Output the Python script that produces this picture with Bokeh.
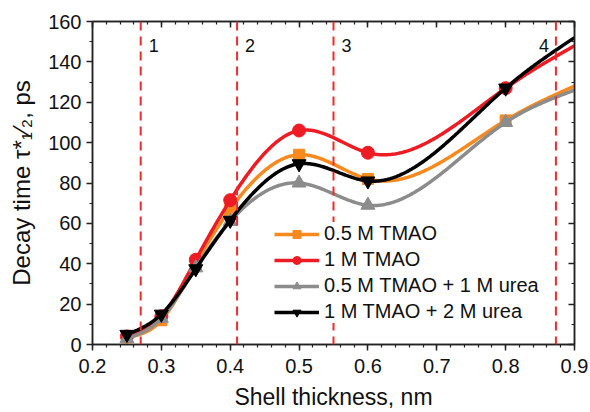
import numpy as np
from bokeh.plotting import figure
from bokeh.models import (Span, Label, Legend, LegendItem, LinearAxis,
                          FixedTicker, NumeralTickFormatter, Range1d)
from bokeh.embed import file_html
from bokeh.resources import INLINE

# ---- data ----
shell = [0.25, 0.30, 0.35, 0.40, 0.50, 0.60, 0.80, 0.90]
tmao_05 = [3.5, 12, 40, 67, 94, 82, 111, 128]
tmao_1 = [4, 14, 42, 71.5, 106, 95, 127, 148]
tmao_05_urea_1 = [3, 13, 38, 61, 80, 69, 110, 126]
tmao_1_urea_2 = [5, 15, 37.5, 61.5, 89.5, 81, 127, 152]
n_markers = 7  # last value is the curve's end at the axis edge (no marker)

series_names = ["0.5 M TMAO", "1 M TMAO", "0.5 M TMAO + 1 M urea", "1 M TMAO + 2 M urea"]
boundaries = [0.27, 0.41, 0.55, 0.873]
boundary_labels = ["1", "2", "3", "4"]
x_ticks = [0.2, 0.3, 0.4, 0.5, 0.6, 0.7, 0.8, 0.9]
y_ticks = [0, 20, 40, 60, 80, 100, 120, 140, 160]

FONT = "Liberation Sans"


def natural_spline(x, y, n=300):
    x = np.asarray(x, float)
    y = np.asarray(y, float)
    k = len(x)
    h = np.diff(x)
    A = np.zeros((k, k))
    b = np.zeros(k)
    A[0, 0] = 1
    A[-1, -1] = 1
    for i in range(1, k - 1):
        A[i, i - 1] = h[i - 1]
        A[i, i] = 2 * (h[i - 1] + h[i])
        A[i, i + 1] = h[i]
        b[i] = 3 * ((y[i + 1] - y[i]) / h[i] - (y[i] - y[i - 1]) / h[i - 1])
    c = np.linalg.solve(A, b)
    xx = np.linspace(x[0], x[-1], n)
    yy = np.empty_like(xx)
    for j, xv in enumerate(xx):
        i = min(np.searchsorted(x, xv, side="right") - 1, k - 2)
        dx = xv - x[i]
        bi = (y[i + 1] - y[i]) / h[i] - h[i] * (2 * c[i] + c[i + 1]) / 3
        di = (c[i + 1] - c[i]) / (3 * h[i])
        yy[j] = y[i] + bi * dx + c[i] * dx ** 2 + di * dx ** 3
    return xx, yy


p = figure(width=590, height=412, output_backend="svg", toolbar_location=None,
           x_range=Range1d(0.2, 0.9), y_range=Range1d(0, 160),
           min_border_left=92, min_border_right=16, min_border_top=21, min_border_bottom=68)
p.grid.visible = False
p.background_fill_color = "white"
p.outline_line_color = "#222222"
p.outline_line_width = 1.5

for b in boundaries:
    p.add_layout(Span(location=b, dimension="height", line_color="#EE2A2A",
                      line_width=2, line_dash="9 6"))

styles = [
    ("#F7891F", "square", 11),
    ("#ED1C24", "circle", 13),
    ("#8C8C8C", "triangle", 14),
    ("#000000", "inverted_triangle", 14),
]
all_series = [tmao_05, tmao_1, tmao_05_urea_1, tmao_1_urea_2]
items = []
for name, vals, (col, mk, sz) in zip(series_names, all_series, styles):
    xx, yy = natural_spline(shell, vals)
    lr = p.line(xx, yy, line_color=col, line_width=3.5)
    sr = p.scatter(shell[:n_markers], vals[:n_markers], marker=mk, size=sz,
                   fill_color=col, line_color=col)
    items.append(LegendItem(label=name, renderers=[lr, sr]))

for b, t in zip(boundaries, boundary_labels):
    right = t == "4"
    p.add_layout(Label(x=b, y=160, x_offset=-7 if right else 8, y_offset=-24, text=t,
                       text_align="right" if right else "left",
                       text_baseline="alphabetic", text_font=FONT,
                       text_font_size="18px", text_color="#111111"))

legend = Legend(items=items, location=(182, 21), border_line_color=None,
                background_fill_color="white", background_fill_alpha=1.0,
                label_text_font=FONT, label_text_font_size="20px",
                label_text_color="#111111", glyph_width=45, glyph_height=20,
                label_height=20, spacing=3, padding=4, margin=0, label_standoff=5)
p.add_layout(legend)

# main axes
minor_x = list(np.round(np.arange(0.2, 0.9001, 0.02), 3))
minor_y = list(np.arange(0, 161, 10))
xa = p.xaxis[0]
ya = p.yaxis[0]
xa.ticker = FixedTicker(ticks=x_ticks, minor_ticks=minor_x)
ya.ticker = FixedTicker(ticks=y_ticks, minor_ticks=minor_y)
xa.formatter = NumeralTickFormatter(format="0.0")
for ax in (xa, ya):
    ax.axis_line_color = "#222222"
    ax.axis_line_width = 1.5
    ax.major_tick_line_color = "#222222"
    ax.minor_tick_line_color = "#222222"
    ax.major_tick_line_width = 1.5
    ax.minor_tick_line_width = 1.2
    ax.major_tick_out = 6
    ax.major_tick_in = 0
    ax.minor_tick_out = 3
    ax.minor_tick_in = 0
    ax.major_label_text_font = FONT
    ax.major_label_text_font_size = "20px"
    ax.major_label_text_color = "#111111"
    ax.major_label_standoff = 5
    ax.axis_label_text_font = FONT
    ax.axis_label_text_font_style = "normal"
    ax.axis_label_text_color = "#111111"
xa.major_label_standoff = 8
xa.axis_label = "Shell thickness, nm"
xa.axis_label_text_font_size = "23px"
xa.axis_label_standoff = 8
ya.axis_label = "Decay time τ*₁⁄₂, ps"
ya.axis_label_text_font_size = "24px"
ya.axis_label_standoff = 10

# mirrored axes with inward ticks
top = LinearAxis(ticker=FixedTicker(ticks=x_ticks, minor_ticks=minor_x))
right = LinearAxis(ticker=FixedTicker(ticks=y_ticks, minor_ticks=minor_y))
for ax in (top, right):
    ax.axis_line_color = "#222222"
    ax.axis_line_width = 1.5
    ax.major_tick_line_color = "#222222"
    ax.minor_tick_line_color = "#222222"
    ax.major_tick_line_width = 1.5
    ax.minor_tick_line_width = 1.2
    ax.major_tick_out = 0
    ax.major_tick_in = 6
    ax.minor_tick_out = 0
    ax.minor_tick_in = 3
    ax.major_label_text_font_size = "1px"
    ax.major_label_text_color = None
    ax.major_label_standoff = 0
p.add_layout(top, "above")
p.add_layout(right, "right")

open("out.html", "w").write(file_html(p, INLINE))
